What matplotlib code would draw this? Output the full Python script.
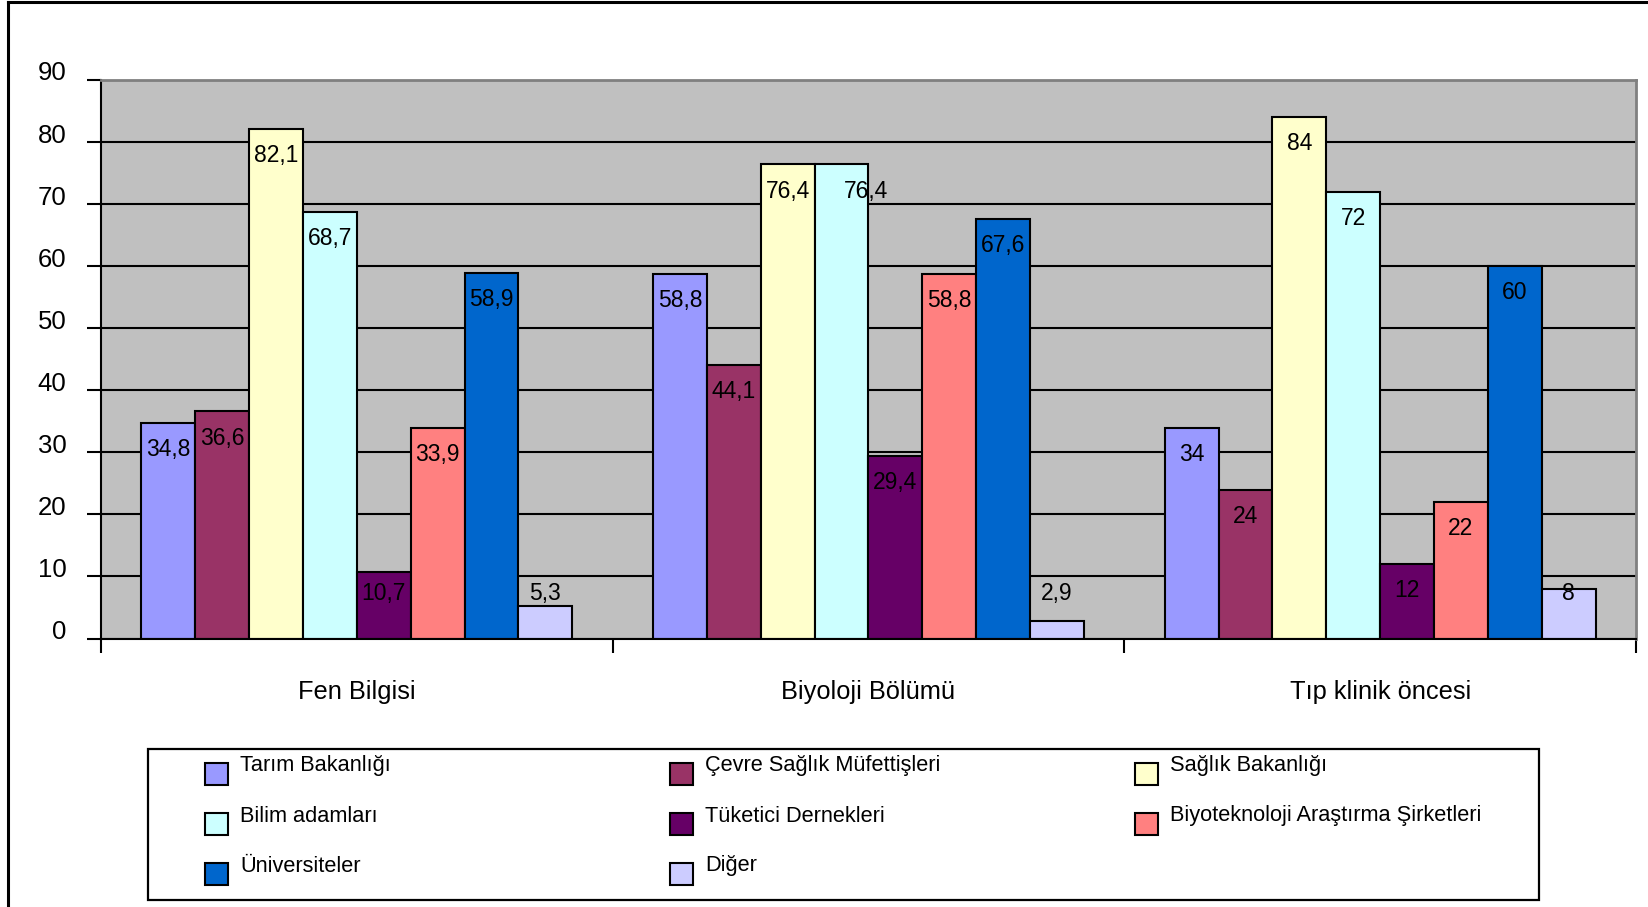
import numpy as np
import matplotlib
matplotlib.use('Agg')
import matplotlib.pyplot as plt
from matplotlib.patches import Rectangle
from matplotlib.lines import Line2D
import matplotlib.transforms as mtrans

plt.rcParams['font.family'] = ['Liberation Sans', 'DejaVu Sans']

# ------  Data  ------------------------------------------------------------
categories = ['Fen Bilgisi', 'Biyoloji Bölümü', 'Tıp klinik öncesi']

series_names = ['Tarım Bakanlığı', 'Çevre Sağlık Müfettişleri', 'Sağlık Bakanlığı',
                'Bilim adamları', 'Tüketici Dernekleri',
                'Biyoteknoloji Araştırma Şirketleri', 'Üniversiteler', 'Diğer']

tarim = [34.8, 58.8, 34]
cevre = [36.6, 44.1, 24]
saglik = [82.1, 76.4, 84]
bilim = [68.7, 76.4, 72]
tuketici = [10.7, 29.4, 12]
biyotek = [33.9, 58.8, 22]
universite = [58.9, 67.6, 60]
diger = [5.3, 2.9, 8]

series_values = [tarim, cevre, saglik, bilim, tuketici, biyotek, universite, diger]

colors = ['#9999FF', '#993366', '#FFFFCC', '#CCFFFF',
          '#660066', '#FF8080', '#0066CC', '#CCCCFF']

yticks = [0, 10, 20, 30, 40, 50, 60, 70, 80, 90]

# ------  Figure and axes  -------------------------------------------------
W, H = 1648, 907
fig = plt.figure(figsize=(W / 100, H / 100), dpi=100)
ax = fig.add_axes([101 / W, 1 - 638.5 / H, (1636 - 101) / W, (638.5 - 80) / H])
ax.set_facecolor('#C0C0C0')

n = len(series_values)
w = 1 / (n + 1.5)      # excel gap width 150%
x = np.arange(len(categories))

for i, vals in enumerate(series_values):
    xs = x + (i - (n - 1) / 2) * w
    ax.bar(xs, vals, width=w, color=colors[i], edgecolor='black', linewidth=1.5, zorder=2)
    for j, v in enumerate(vals):
        # label just inside the bar top, kept above the axis for short bars
        ly = max(v - 4.3, 7.2)
        lx = xs[j]
        if i > 0 and series_values[i - 1][j] == v:
            lx = lx + 0.45 * w
        ax.text(lx, ly, ('%g' % v).replace('.', ','), ha='center', va='center',
                fontsize=16.5, zorder=3)

# ------  Axes styling  ----------------------------------------------------
ax.set_xlim(-0.5, len(categories) - 0.5)
ax.set_ylim(0, 90)
ax.set_yticks(yticks)
ax.set_yticklabels([str(t) for t in yticks], fontsize=18.5)
ax.yaxis.grid(True, color='black', linewidth=1.5)
ax.set_axisbelow(True)
ax.tick_params(axis='y', direction='out', length=10, width=1.5, pad=15)

offset = mtrans.ScaledTranslation(0, 6.5 / 72, fig.dpi_scale_trans)
for lab in ax.get_yticklabels():
    lab.set_transform(lab.get_transform() + offset)

ax.set_xticks(x)
ax.set_xticklabels(categories, fontsize=18.3)
ax.set_xticks(np.arange(-0.5, len(categories)), minor=True)
ax.tick_params(axis='x', which='major', length=0, pad=30)
ax.tick_params(axis='x', which='minor', direction='out', length=10, width=1.5)

ax.spines['left'].set_color('black')
ax.spines['bottom'].set_color('black')
ax.spines['left'].set_linewidth(1.5)
ax.spines['bottom'].set_linewidth(1.5)
ax.spines['top'].set_color('#808080')
ax.spines['right'].set_color('#808080')
ax.spines['top'].set_linewidth(2)
ax.spines['right'].set_linewidth(2)

# ------  Legend (excel style, filled row by row)  -------------------------
def fx(px):
    return px / W

def fy(py):
    return 1 - py / H

fig.add_artist(Rectangle((fx(148), fy(900)), fx(1539) - fx(148), fy(749) - fy(900),
                         transform=fig.transFigure, fill=False, edgecolor='black', linewidth=1.6))

for i, name in enumerate(series_names):
    row, col = i // 3, i % 3
    mx = 205 + col * 465
    my = 774 + row * 50
    fig.add_artist(Rectangle((fx(mx), fy(my + 11)), fx(23), 22 / H,
                             transform=fig.transFigure, facecolor=colors[i],
                             edgecolor='black', linewidth=1.5))
    fig.text(fx(mx + 35), fy(my - 8), name, ha='left', va='center', fontsize=15.7)

# ------  Outer chart border (left and top visible)  -----------------------
fig.add_artist(Line2D([fx(8), fx(8)], [fy(1.5), 0], transform=fig.transFigure,
                      color='black', linewidth=2.2))
fig.add_artist(Line2D([fx(8), 1], [fy(1.5), fy(1.5)], transform=fig.transFigure,
                      color='black', linewidth=2.2))

fig.savefig('out.png', dpi=100)
